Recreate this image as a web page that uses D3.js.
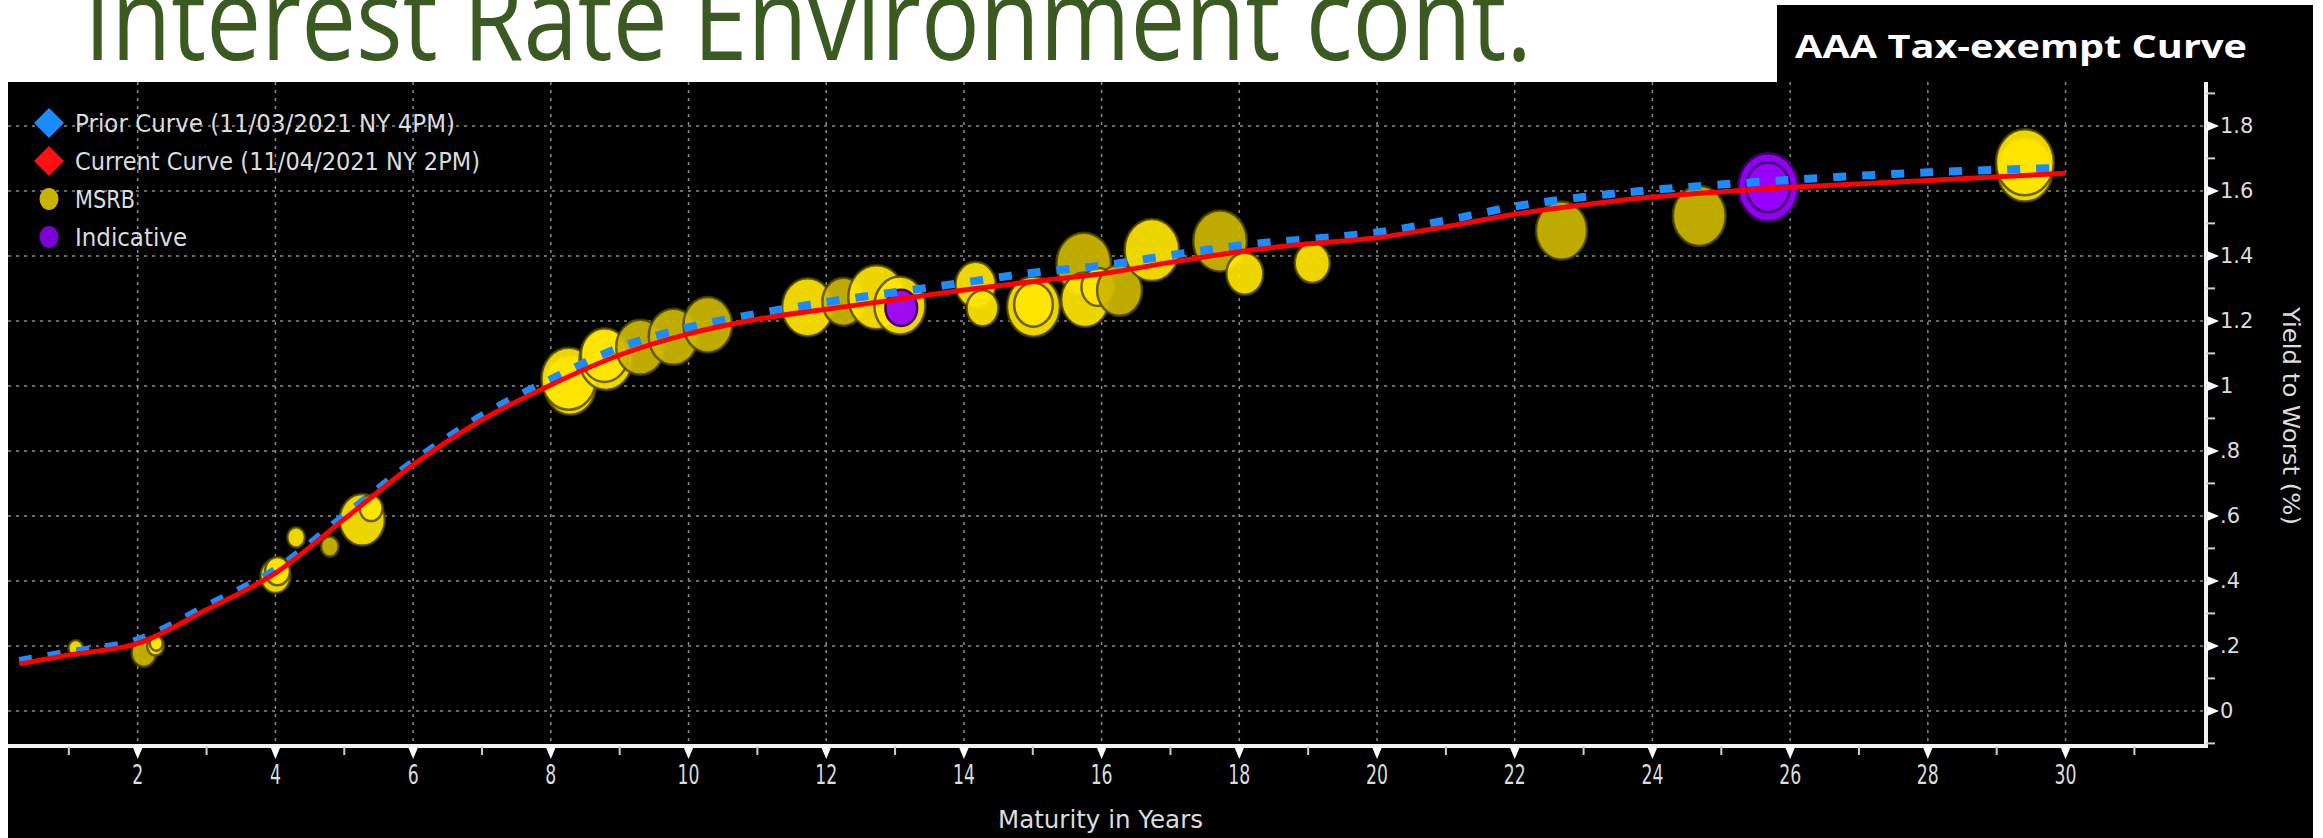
<!DOCTYPE html>
<html>
<head>
<meta charset="utf-8">
<script src="https://cdn.jsdelivr.net/npm/d3@7"></script>
<style>
  html, body { margin: 0; padding: 0; background: #fff; }
  svg { display: block; }
  .tick-lbl { font-family: "DejaVu Sans", sans-serif; fill: #dcdcdc; }
</style>
</head>
<body>
<svg id="chart" width="2323" height="838"></svg>
<script>
/* AAA tax-exempt curve – prior vs current, with MSRB trades + indicative levels */

// --- data ---
const curveYears   = [0.28, 1, 2, 3, 4, 5, 6, 7, 8, 9, 10, 11, 12, 13, 14, 15, 16, 17, 18, 19, 20, 21, 22, 23, 24, 26, 28, 30];
const currentYield = [0.144, 0.172, 0.208, 0.311, 0.424, 0.590, 0.757, 0.895, 1.003, 1.095, 1.160, 1.205, 1.236, 1.265, 1.295, 1.321, 1.345, 1.380, 1.413, 1.437, 1.456, 1.490, 1.528, 1.557, 1.581, 1.611, 1.632, 1.654];

const priorYears   = [0.28, 1, 2, 3, 4, 5, 6, 7, 8, 9, 10, 11, 12, 13, 14, 15, 16, 17, 18, 20, 21, 22, 23, 24, 26, 28, 29.77];
const priorYield   = [0.154, 0.180, 0.218, 0.322, 0.434, 0.600, 0.766, 0.908, 1.020, 1.118, 1.180, 1.222, 1.258, 1.288, 1.318, 1.348, 1.370, 1.402, 1.432, 1.472, 1.509, 1.552, 1.581, 1.603, 1.634, 1.657, 1.670];

// MSRB trades: maturity (yrs), yield (%), par size ($MM), side (B = customer buy, S = customer sell)
const msrbYears = [1.10, 2.09, 2.26, 2.27, 4.00, 4.03, 4.30, 4.79, 5.26, 5.39, 8.28, 8.26, 8.80, 8.78, 9.30, 9.78, 10.28, 11.73, 12.25, 12.73, 13.07, 14.17, 14.27, 15.01, 15.01, 15.74, 15.76, 15.95, 16.26, 16.73, 17.72, 18.08, 19.06, 22.68, 24.68, 29.41, 29.41];
const msrbYield = [0.193, 0.179, 0.200, 0.208, 0.415, 0.430, 0.534, 0.506, 0.588, 0.624, 1.002, 1.022, 1.080, 1.095, 1.119, 1.151, 1.188, 1.242, 1.259, 1.273, 1.247, 1.311, 1.239, 1.244, 1.250, 1.376, 1.265, 1.304, 1.294, 1.418, 1.446, 1.345, 1.378, 1.478, 1.523, 1.665, 1.688];
const msrbSize  = [1.9, 5.4, 2.6, 1.5, 8.0, 5.5, 2.8, 2.8, 18.3, 4.7, 24.0, 26.6, 24.9, 20.0, 20.9, 21.7, 21.2, 23.3, 15.9, 28.3, 23.3, 14.6, 9.0, 25.0, 13.4, 26.6, 20.5, 10.0, 18.0, 26.6, 25.7, 12.2, 11.1, 23.3, 24.9, 28.0, 30.0];
const msrbSide  = ["B", "S", "B", "B", "B", "B", "B", "S", "B", "B", "B", "B", "B", "B", "S", "S", "S", "B", "S", "B", "B", "B", "B", "B", "B", "S", "B", "B", "S", "B", "S", "B", "B", "S", "S", "B", "B"];

// Indicative levels
const indYears = [13.09, 25.68, 25.68];
const indYield = [1.240, 1.611, 1.611];
const indSize  = [9.0, 32.0, 17.0];

const xTicks = d3.range(2, 31, 2);
const xMinor = d3.range(1, 32, 2);
const yTicks = d3.range(0, 1.81, 0.2).map(v => +v.toFixed(1));
const yMinor = d3.range(-0.1, 1.95, 0.1).map(v => +v.toFixed(1));

const legendItems = [
  {label: "Prior Curve (11/03/2021 NY 4PM)",   shape: "diamond", color: "#1a8cff", len: 380},
  {label: "Current Curve (11/04/2021 NY 2PM)", shape: "diamond", color: "#ff1010", len: 405},
  {label: "MSRB",                              shape: "circle",  color: "#c8b400", len: 60},
  {label: "Indicative",                        shape: "circle",  color: "#7a00d6", len: 112}
];

// --- layout ---
const svg = d3.select("#chart");
const W = 2323, H = 838;
const plot = {left: 8, top: 82, right: 2206, bottom: 746};

const x = d3.scaleLinear().domain([0.116, 32.04]).range([plot.left, plot.right]);
const y = d3.scaleLinear().domain([-0.108, 1.935]).range([plot.bottom, plot.top]);
const r = d3.scaleSqrt().domain([0, 32]).range([0, 34]);
const sideColor = d3.scaleOrdinal().domain(["B", "S"]).range(["#ffe600", "#cdb700"]);

svg.append("rect").attr("width", W).attr("height", H).attr("fill", "#fff");

// slide title (top cut off like the original)
svg.append("text")
  .attr("x", 84).attr("y", 60)
  .attr("textLength", 1448).attr("lengthAdjust", "spacingAndGlyphs")
  .attr("font-family", "'Open Sans', 'Noto Sans', sans-serif")
  .attr("font-size", 116)
  .attr("fill", "#3a5a22")
  .text("Interest Rate Environment cont.");

// chart background
svg.append("rect")
  .attr("x", plot.left).attr("y", plot.top)
  .attr("width", 2313 - plot.left).attr("height", H - plot.top)
  .attr("fill", "#000");

// title box
svg.append("rect").attr("x", 1777).attr("y", 5).attr("width", 536).attr("height", 80).attr("fill", "#000");
svg.append("text")
  .attr("x", 1795).attr("y", 58)
  .attr("textLength", 452).attr("lengthAdjust", "spacingAndGlyphs")
  .attr("font-family", "'Open Sans', 'Noto Sans', sans-serif")
  .attr("font-weight", 700).attr("font-size", 33)
  .attr("fill", "#fff")
  .text("AAA Tax-exempt Curve");

// grid
const grid = svg.append("g").attr("stroke", "#8c8c8c").attr("stroke-width", 1.5).attr("stroke-dasharray", "3,5");
grid.selectAll(".gh").data(yTicks).join("line")
  .attr("x1", plot.left).attr("x2", plot.right)
  .attr("y1", d => y(d)).attr("y2", d => y(d));
grid.selectAll(".gv").data(xTicks).join("line")
  .attr("x1", d => x(d)).attr("x2", d => x(d))
  .attr("y1", plot.top).attr("y2", plot.bottom);

// bubbles
const bubbles = svg.append("g");
const msrb = msrbYears.map((m, i) => ({m, yld: msrbYield[i], size: msrbSize[i], side: msrbSide[i]}));
bubbles.selectAll(".msrb").data(msrb).join("ellipse")
  .attr("cx", d => x(d.m)).attr("cy", d => y(d.yld))
  .attr("rx", d => r(d.size) * 0.88).attr("ry", d => r(d.size))
  .attr("fill", d => sideColor(d.side))
  .attr("fill-opacity", 0.93)
  .attr("stroke", "#4a4200").attr("stroke-width", 2.5).attr("stroke-opacity", 0.8);

const ind = indYears.map((m, i) => ({m, yld: indYield[i], size: indSize[i]}));
bubbles.selectAll(".ind").data(ind).join("ellipse")
  .attr("cx", d => x(d.m)).attr("cy", d => y(d.yld))
  .attr("rx", d => r(d.size) * 0.88).attr("ry", d => r(d.size))
  .attr("fill", "#9a00ff").attr("fill-opacity", 0.95)
  .attr("stroke", "#3c0066").attr("stroke-width", 2.5);

// curves
const line = d3.line().x(d => x(d[0])).y(d => y(d[1])).curve(d3.curveCatmullRom.alpha(0.5));
svg.append("path")
  .datum(priorYears.map((m, i) => [m, priorYield[i]]))
  .attr("d", line).attr("fill", "none")
  .attr("stroke", "#1a8cff").attr("stroke-width", 8).attr("stroke-dasharray", "13,16");
svg.append("path")
  .datum(curveYears.map((m, i) => [m, currentYield[i]]))
  .attr("d", line).attr("fill", "none")
  .attr("stroke", "#ff0000").attr("stroke-width", 5);

// x axis
const xAxis = svg.append("g");
xAxis.append("line").attr("x1", plot.left).attr("x2", plot.right + 2)
  .attr("y1", plot.bottom).attr("y2", plot.bottom)
  .attr("stroke", "#f2f2f2").attr("stroke-width", 4);
xAxis.selectAll(".mn").data(xMinor).join("line")
  .attr("x1", d => x(d)).attr("x2", d => x(d))
  .attr("y1", plot.bottom).attr("y2", plot.bottom + 9)
  .attr("stroke", "#cfcfcf").attr("stroke-width", 2);
xAxis.selectAll(".tri").data(xTicks).join("path")
  .attr("d", d => `M${x(d) - 5},${plot.bottom + 1}L${x(d) + 5},${plot.bottom + 1}L${x(d)},${plot.bottom + 13}Z`)
  .attr("fill", "#fff");
xAxis.selectAll(".lbl").data(xTicks).join("text")
  .attr("class", "tick-lbl")
  .attr("transform", d => `translate(${x(d)},784) scale(0.64,1)`)
  .attr("text-anchor", "middle").attr("font-size", 27)
  .text(d => d);
xAxis.append("text")
  .attr("class", "tick-lbl")
  .attr("x", 998).attr("y", 828)
  .attr("textLength", 205).attr("lengthAdjust", "spacingAndGlyphs")
  .attr("font-size", 25)
  .text("Maturity in Years");

// y axis (right)
const yAxis = svg.append("g");
yAxis.append("line").attr("x1", plot.right).attr("x2", plot.right)
  .attr("y1", plot.top).attr("y2", plot.bottom + 2)
  .attr("stroke", "#f2f2f2").attr("stroke-width", 4);
yAxis.selectAll(".mn").data(yMinor).join("line")
  .attr("x1", plot.right).attr("x2", plot.right + 9)
  .attr("y1", d => y(d)).attr("y2", d => y(d))
  .attr("stroke", "#cfcfcf").attr("stroke-width", 2);
yAxis.selectAll(".tri").data(yTicks).join("path")
  .attr("d", d => `M${plot.right + 1},${y(d) - 5}L${plot.right + 1},${y(d) + 5}L${plot.right + 13},${y(d)}Z`)
  .attr("fill", "#fff");
const yFmt = d => d === 0 ? "0" : d3.format(".1f")(d).replace(/^0\./, ".").replace(/\.0$/, "");
yAxis.selectAll(".lbl").data(yTicks).join("text")
  .attr("class", "tick-lbl")
  .attr("x", plot.right + 14).attr("y", d => y(d))
  .attr("dy", "0.36em").attr("font-size", 21)
  .text(yFmt);
yAxis.append("text")
  .attr("class", "tick-lbl")
  .attr("transform", "translate(2283,416) rotate(90)")
  .attr("text-anchor", "middle")
  .attr("textLength", 218).attr("lengthAdjust", "spacingAndGlyphs")
  .attr("font-size", 23)
  .text("Yield to Worst (%)");

// legend
const legend = svg.append("g").attr("transform", "translate(49,123)");
const row = legend.selectAll("g").data(legendItems).join("g")
  .attr("transform", (d, i) => `translate(0,${i * 38})`);
row.filter(d => d.shape === "diamond").append("path")
  .attr("d", "M0,-15L15,0L0,15L-15,0Z")
  .attr("fill", d => d.color);
row.filter(d => d.shape === "circle").append("ellipse")
  .attr("rx", 9.5).attr("ry", 11)
  .attr("fill", d => d.color);
row.append("text")
  .attr("class", "tick-lbl")
  .attr("x", 26).attr("dy", "0.36em")
  .attr("textLength", d => d.len).attr("lengthAdjust", "spacingAndGlyphs")
  .attr("font-size", 24)
  .text(d => d.label);
</script>
</body>
</html>
